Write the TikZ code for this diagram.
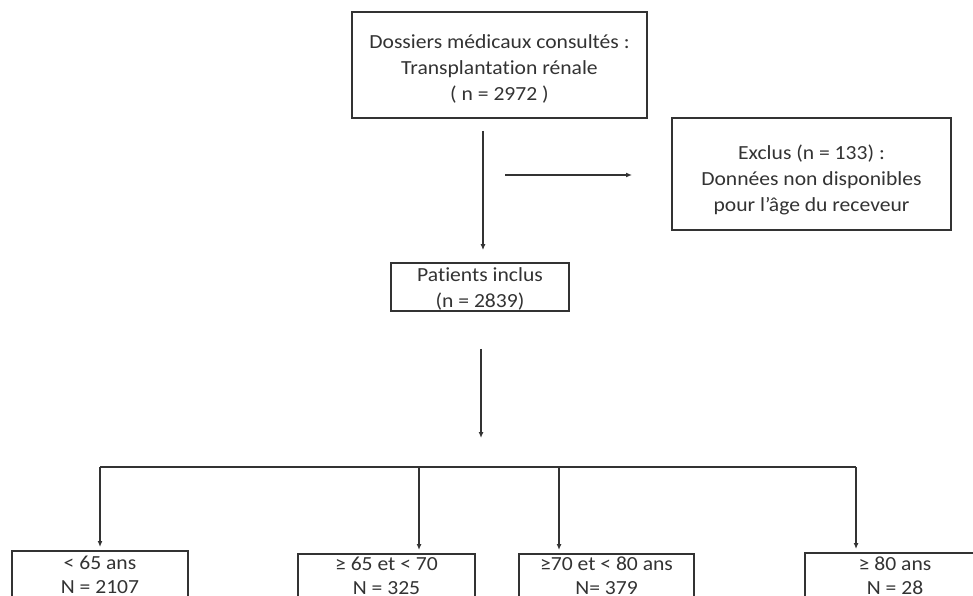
\documentclass[tikz,border=0pt]{standalone}
\usepackage{fontspec}
\setmainfont{Carlito}[Ligatures=NoCommon, FakeStretch=1.08]
\usetikzlibrary{arrows.meta}
\definecolor{ln}{HTML}{333333}
\definecolor{tx}{HTML}{333333}
\tikzset{
  box/.style={draw=ln, line width=1.7pt, text=tx, align=center, inner sep=0pt, font=\fontsize{20}{26}\selectfont},
  bbox/.style={box, anchor=north, text depth=20pt, font=\fontsize{20}{24.5}\selectfont},
  arr/.style={draw=ln, line width=1.4pt, -{Latex[length=6pt,width=5pt]}},
  ln/.style={draw=ln, line width=1.4pt}
}
\begin{document}
\begin{tikzpicture}[x=1pt,y=-1pt]
\useasboundingbox (0,0) rectangle (973,596);
\clip (0,0) rectangle (973,596);
\fill[white] (0,0) rectangle (973,596);
\node[box, minimum width=295pt, minimum height=106pt] (top) at (499.5,65) {\rule{0pt}{21pt}Dossiers médicaux consultés :\\Transplantation rénale\\( n = 2972 )};
\node[box, minimum width=279pt, minimum height=112pt] (excl) at (811.5,174) {\rule{0pt}{27pt}Exclus (n = 133) :\\Données non disponibles\\pour l’âge du receveur};
\node[box, minimum width=178pt, minimum height=48pt, text depth=0pt] (pat) at (480,287) {\rule{0pt}{15pt}Patients inclus\\(n = 2839)};
\node[bbox, minimum width=176pt] (b1) at (100,550) {\rule{0pt}{18.5pt}< 65 ans\\N = 2107};
\node[bbox, minimum width=177pt] (b2) at (386.5,553) {\rule{0pt}{16.5pt}≥ 65 et < 70\\N = 325};
\node[bbox, minimum width=175pt] (b3) at (606.5,553) {\rule{0pt}{16.5pt}≥70 et < 80 ans\\N= 379};
\node[bbox, minimum width=180pt] (b4) at (895,552) {\rule{0pt}{17.5pt}≥ 80 ans\\N = 28};
\coordinate (c1) at (483,0);
\coordinate (c2) at (481,0);
\coordinate (h1) at (505,175);
\coordinate (h2) at (632,175);
\coordinate (br) at (481,467);
\coordinate (k1) at (100,467);
\coordinate (k2) at (419,467);
\coordinate (k3) at (559,467);
\coordinate (k4) at (856,467);
\draw[arr, shorten <=12pt, shorten >=12pt] (top.south -| c1) -- (pat.north -| c1);
\draw[arr] (h1) -- (h2);
\draw[arr, shorten <=37pt] (pat.south -| c2) -- ([yshift=29pt]br);
\draw[ln] (k1) -- (k4);
\draw[arr, shorten >=3pt] (k1) -- (k1 |- b1.north);
\draw[arr, shorten >=3pt] (k2) -- (k2 |- b2.north);
\draw[arr, shorten >=3pt] (k3) -- (k3 |- b3.north);
\draw[arr, shorten >=3pt] (k4) -- (k4 |- b4.north);
\end{tikzpicture}
\end{document}
